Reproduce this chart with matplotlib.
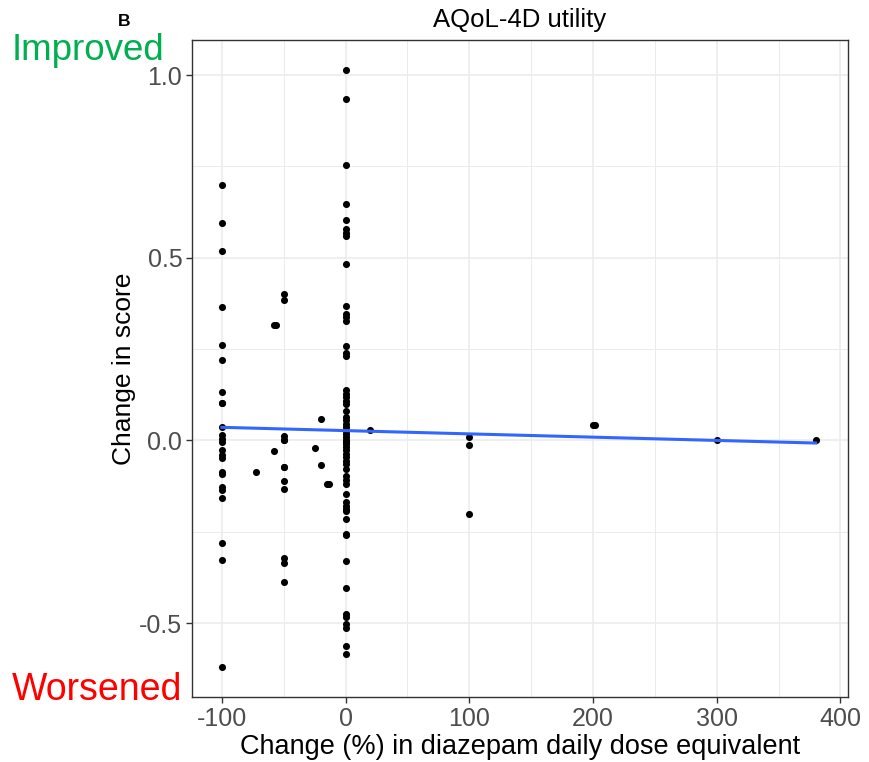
import numpy as np
import matplotlib.pyplot as plt
from matplotlib.ticker import MultipleLocator

plt.rcParams['font.family'] = ['Liberation Sans', 'DejaVu Sans']

# score changes for patients whose dose changed by -100 %, -50 % and 0 %
score_m100 = [0.699, 0.596, 0.518, 0.364, 0.261, 0.219, 0.133, 0.102, 0.102, 0.036,
              0.016, 0.005, -0.005, -0.027, -0.041, -0.047, -0.087, -0.091, -0.128,
              -0.135, -0.157, -0.281, -0.326, -0.620]
score_m50 = [0.401, 0.384, 0.011, 0.002, 0.0, -0.073, -0.073, -0.111, -0.132,
             -0.321, -0.335, -0.388]
score_0 = [1.014, 0.935, 0.753, 0.647, 0.604, 0.578, 0.569, 0.560, 0.484, 0.369,
           0.346, 0.339, 0.328, 0.258, 0.239, 0.232, 0.137, 0.128, 0.118, 0.109,
           0.100, 0.080, 0.064, 0.055, 0.046, 0.036, 0.027, 0.018, 0.009, 0.0,
           -0.005, -0.009, -0.018, -0.027, -0.036, -0.046, -0.055, -0.064, -0.077,
           -0.096, -0.107, -0.120, -0.146, -0.169, -0.178, -0.187, -0.193, -0.215,
           -0.255, -0.260, -0.330, -0.404, -0.474, -0.483, -0.503, -0.514, -0.562,
           -0.583]

# remaining individual points
other_dose = [-72, -58, -56, -57.6, -25, -20, -20, -15, -13, 20, 100, 100, 100,
              200, 202, 300, 380]
other_score = [-0.087, 0.315, 0.315, -0.028, -0.020, 0.058, -0.066, -0.118, -0.118,
               0.029, 0.009, -0.011, -0.202, 0.043, 0.043, 0.002, 0.002]

# linear fit line (endpoints)
fit_dose = [-100, 380]
fit_score = [0.036, -0.007]

dose = ([-100] * len(score_m100) + [-50] * len(score_m50) + [0] * len(score_0)
        + other_dose)
score = score_m100 + score_m50 + score_0 + other_score

fig = plt.figure(figsize=(8.7, 7.62), dpi=100)
ax = fig.add_axes([192 / 870, 1 - 697 / 762, 656 / 870, 657 / 762])

ax.scatter(dose, score, s=26, color='black', linewidths=0, zorder=3)
ax.plot(fit_dose, fit_score, color='#3366FF', linewidth=2.2, zorder=4)

ax.set_xlim(-124.1, 406.1)
ax.set_ylim(-0.702, 1.096)
ax.xaxis.set_minor_locator(MultipleLocator(50))
ax.yaxis.set_minor_locator(MultipleLocator(0.25))
ax.set_yticks([-0.5, 0.0, 0.5, 1.0])
ax.set_yticklabels(['-0.5', '0.0', '0.5', '1.0'])
ax.set_xticks([-100, 0, 100, 200, 300, 400])
ax.set_xticklabels(['-100', '0', '100', '200', '300', '400'])

ax.grid(which='major', color='#EBEBEB', linewidth=1.1, zorder=0)
ax.grid(which='minor', color='#EBEBEB', linewidth=0.7, zorder=0)
ax.set_axisbelow(True)
for sp in ax.spines.values():
    sp.set_color('#333333')
    sp.set_linewidth(1.0)
ax.tick_params(which='major', length=4, width=1, color='#333333',
               labelsize=18, labelcolor='#4D4D4D', pad=3)
ax.tick_params(which='minor', length=0)

ax.set_title('AQoL-4D utility', fontsize=18.5, pad=9)
ax.set_xlabel('Change (%) in diazepam daily dose equivalent', fontsize=19.5, labelpad=2)
ax.set_ylabel('Change in score', fontsize=19, labelpad=2)

fig.text(12 / 870, 1 - 50 / 762, 'Improved', color='#00B050', fontsize=26.5,
         ha='left', va='center')
fig.text(12 / 870, 1 - 690 / 762, 'Worsened', color='#FF0000', fontsize=27,
         ha='left', va='center')
fig.text(124 / 870, 1 - 21 / 762, 'B', fontsize=12.5, fontweight='bold',
         ha='center', va='center')

fig.savefig('out.png', dpi=100)
